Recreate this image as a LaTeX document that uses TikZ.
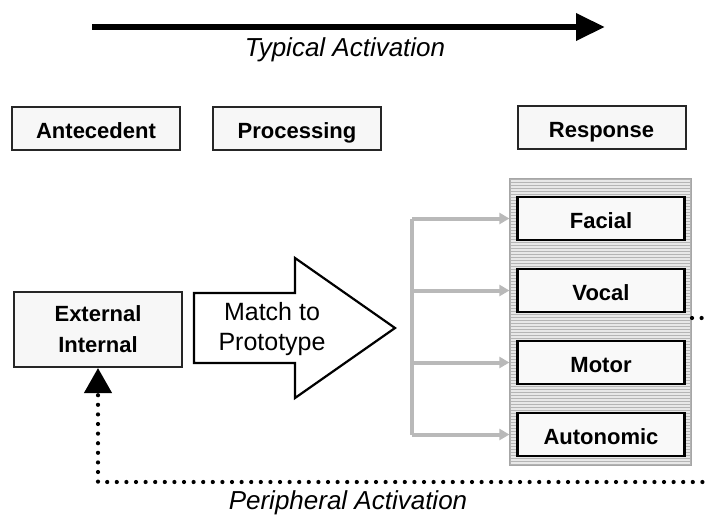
\documentclass[tikz,border=0pt]{standalone}
\usepackage{fontspec}
\setmainfont{Liberation Sans}
\usetikzlibrary{arrows.meta}
\tikzset{
  header/.style={draw=black!85, line width=2pt, fill=gray!6, minimum width=168pt, minimum height=43pt, inner sep=0pt, text height=21pt, text depth=0pt, font=\bfseries\fontsize{22}{26}\selectfont},
  resp/.style={draw=black, line width=2.6pt, fill=gray!5, minimum width=167pt, minimum height=43pt, inner sep=0pt, text height=19pt, text depth=0pt, font=\bfseries\fontsize{22}{26}\selectfont},
  feed/.style={draw=gray!55, line width=4pt},
  periph/.style={line width=4.2pt, line cap=round, dash pattern=on 0pt off 9.6pt},
  actlabel/.style={font=\itshape\fontsize{26}{28}\selectfont, anchor=base}
}
\begin{document}
\begin{tikzpicture}[x=1pt,y=-1pt]
\clip (0,0) rectangle (708,517);

% Typical activation
\coordinate (tstart) at (92,27);
\coordinate (tend) at (605,27);
\draw[line width=6.5pt, -{Triangle[length=29pt,width=26pt]}] (tstart) -- (tend);
\node[actlabel] (typical) at (345,56) {Typical Activation};

% Headers
\node[header] (antecedent) at (96,128) {Antecedent};
\node[header] (processing) at (297,128) {Processing};
\node[header] (response) at (601.5,127) {Response};

% Response panel
\node[draw=gray!60, line width=1.2pt, fill=gray!18, minimum width=181pt, minimum height=286pt] (panel) at (600.5,322) {};
\foreach \y in {182,185,...,462}
  \draw[gray!58, line width=0.9pt] (511,\y) -- (690,\y);
\draw[gray!70, line width=1.3pt] (panel.north west) rectangle (panel.south east);

\node[resp] (facial) at (601,218.5) {Facial};
\node[resp] (vocal) at (601,290.5) {Vocal};
\node[resp] (motor) at (601,362.5) {Motor};
\node[resp] (autonomic) at (601,434.5) {Autonomic};

% Antecedent and processing
\node[draw=black!85, line width=2pt, fill=gray!6, minimum width=168pt, minimum height=75pt, align=center, font=\bfseries\fontsize{22}{31}\selectfont] (ext) at (98,329.5) {External\\Internal};
\draw[line width=2.2pt, fill=white, line join=miter] (194,293) -- (295,293) -- (295,258) -- (395,328) -- (295,398) -- (295,363) -- (194,363) -- cycle;
\node[align=center, font=\fontsize{25}{30}\selectfont] (match) at (272,329) {Match to\\Prototype};

% Feeds to responses
\coordinate (fork) at (412,219);
\draw[feed] (fork) -- (fork |- autonomic);
\foreach \r in {facial,vocal,motor,autonomic}
  \draw[feed, -{Triangle[length=10pt,width=11pt]}] (fork |- \r) -- (\r.west -| panel.west);

% Peripheral activation
\coordinate (pstart) at (692,318);
\draw[periph, -{Triangle[length=25pt,width=27pt]}] (pstart) -- (716,318) -- (716,482) -| (ext.south);
\node[actlabel] (peripheral) at (348,509) {Peripheral Activation};
\end{tikzpicture}
\end{document}
